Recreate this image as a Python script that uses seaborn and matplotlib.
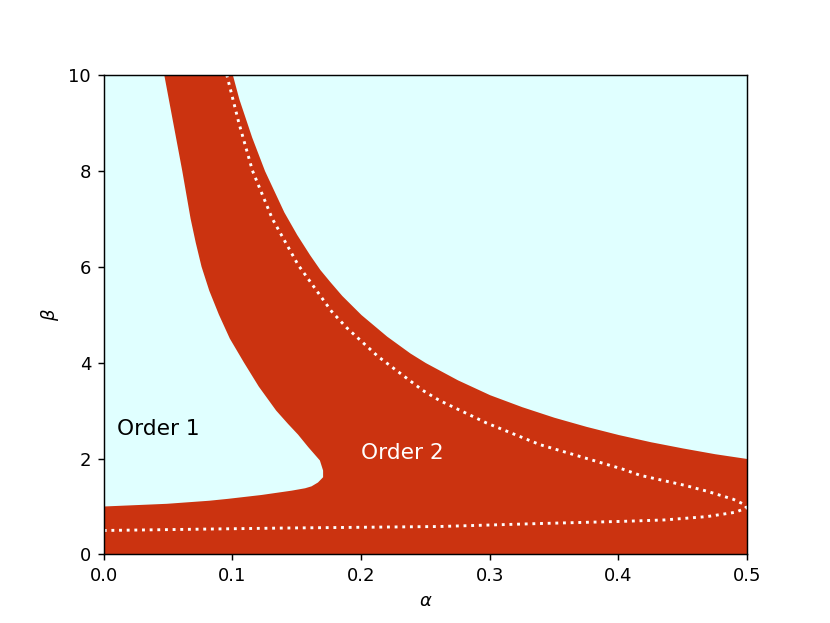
"""
Order 1 / Order 2 region map in the (alpha, beta) plane
Output: out.png
"""

import numpy as np
import pandas as pd
import matplotlib
matplotlib.use("Agg")
import matplotlib.pyplot as plt
import seaborn as sns

# upper edge of the red band (beta drops as alpha grows)
upper_alpha = [0.0, 0.1, 0.105, 0.115, 0.125, 0.14, 0.15, 0.16, 0.168, 0.1757, 0.185, 0.2,
               0.22, 0.238, 0.25, 0.275, 0.3, 0.325, 0.35, 0.375, 0.4, 0.425, 0.45, 0.475, 0.5]
upper_beta = [10.0, 10.0, 9.5, 8.7, 8.0, 7.14, 6.67, 6.25, 5.94, 5.69, 5.4, 5.0,
              4.55, 4.2, 4.0, 3.64, 3.33, 3.08, 2.86, 2.67, 2.5, 2.35, 2.22, 2.1, 2.0]

# boundary of the "Order 1" pocket: lower edge, nose, then left edge up to the top
pocket_alpha = [0.0, 0.049, 0.082, 0.0967, 0.1226, 0.146, 0.1565, 0.1615, 0.1665, 0.1705,
                0.1705, 0.168, 0.1589, 0.151, 0.1433, 0.134, 0.1205, 0.109, 0.098, 0.0895,
                0.082, 0.076, 0.0715, 0.0675, 0.061, 0.054, 0.047, 0.0]
pocket_beta = [1.0, 1.056, 1.12, 1.16, 1.24, 1.33, 1.38, 1.42, 1.5, 1.61,
               1.75, 1.96, 2.24, 2.5, 2.72, 3.0, 3.5, 4.0, 4.5, 5.0,
               5.5, 6.0, 6.5, 7.0, 8.0, 9.0, 10.0, 10.0]

# white dotted curve: lower branch out to alpha=0.5, then upper branch back up
dot_alpha = [0.0, 0.137, 0.261, 0.339, 0.403, 0.436, 0.469, 0.491, 0.4995,
             0.4984, 0.4894, 0.4687, 0.4518, 0.417, 0.4033, 0.339, 0.2976, 0.261,
             0.248, 0.2133, 0.1887, 0.177, 0.151, 0.131, 0.1156, 0.105, 0.0956]
dot_beta = [0.5, 0.55, 0.583, 0.645, 0.69, 0.72, 0.79, 0.88, 0.97,
            1.035, 1.15, 1.32, 1.44, 1.65, 1.78, 2.29, 2.74, 3.21,
            3.42, 4.125, 4.73, 5.07, 6.04, 7.0, 8.0, 9.0, 10.0]

RED = "#cb3310"
CYAN = "#e0ffff"


def main():
    fig, ax = plt.subplots(figsize=(830 / 130, 623 / 130), dpi=130)
    ax.set_facecolor(CYAN)

    # Order 2 band
    ax.fill_between(upper_alpha, 0, upper_beta, color=RED, linewidth=0)
    # Order 1 pocket cut back out of it
    ax.fill(pocket_alpha, pocket_beta, color=CYAN, linewidth=0)

    curve = pd.DataFrame({"alpha": dot_alpha, "beta": dot_beta})
    sns.lineplot(data=curve, x="alpha", y="beta", sort=False, estimator=None,
                 color="white", linestyle=":", linewidth=1.6, ax=ax)

    ax.text(0.01, 2.5, "Order 1", fontsize=12, color="black")
    ax.text(0.2, 2.0, "Order 2", fontsize=12, color="white")

    ax.set_xlim(0, 0.5)
    ax.set_ylim(0, 10)
    ax.set_xticks(np.arange(0, 0.51, 0.1))
    ax.set_yticks([0, 2, 4, 6, 8, 10])
    ax.set_xlabel(r"$\alpha$")
    ax.set_ylabel(r"$\beta$")

    fig.savefig("out.png", dpi=130)
    plt.close(fig)


if __name__ == "__main__":
    main()
